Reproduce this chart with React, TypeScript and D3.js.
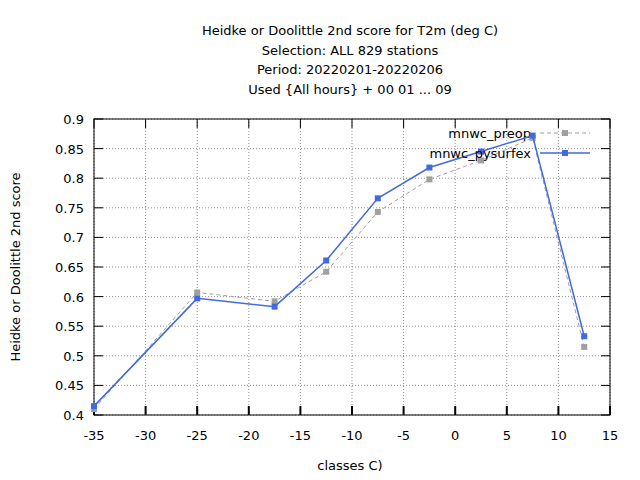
import React from 'react';
import * as d3 from 'd3';

const classes = [-35, -25, -17.5, -12.5, -7.5, -2.5, 2.5, 7.5, 12.5];
const preop = [0.41, 0.607, 0.592, 0.642, 0.743, 0.798, 0.83, 0.868, 0.515];
const pysurfex = [0.415, 0.597, 0.583, 0.661, 0.766, 0.818, 0.845, 0.872, 0.533];
const xTicks = [-35, -30, -25, -20, -15, -10, -5, 0, 5, 10, 15];
const yTicks = [0.4, 0.45, 0.5, 0.55, 0.6, 0.65, 0.7, 0.75, 0.8, 0.85, 0.9];
const titleLines = [
  'Heidke or Doolittle 2nd score  for T2m (deg C)',
  'Selection: ALL    829 stations',
  'Period: 20220201-20220206',
  'Used {All hours} + 00 01 ... 09',
];

const L = 94, R = 610, T = 119, B = 415;

export default function App() {
  const x = d3.scaleLinear().domain([-35, 15]).range([L, R]);
  const y = d3.scaleLinear().domain([0.4, 0.9]).range([B, T]);
  const line = d3.line<number>().x((_, i) => x(classes[i])).y(d => y(d));
  const series = [
    { name: 'mnwc_preop', data: preop, color: '#a0a0a0', dash: '4,3', w: 1 },
    { name: 'mnwc_pysurfex', data: pysurfex, color: '#4169e1', dash: undefined, w: 1.5 },
  ];
  const font = 'DejaVu Sans, sans-serif';
  return (
    <svg width={640} height={480} style={{ position: 'absolute', left: 0, top: 0, background: '#fff', whiteSpace: 'pre' }} fontFamily={font} fontSize={13}>
      {titleLines.map((t, i) => (
        <text key={i} x={350} y={35 + i * 19.5} textAnchor="middle">{t}</text>
      ))}
      {xTicks.map(t => (
        <g key={'x' + t}>
          <line x1={x(t)} x2={x(t)} y1={T} y2={B} stroke="#909090" strokeDasharray="1,2" />
          <line x1={x(t)} x2={x(t)} y1={B} y2={B - 9} stroke="#000" strokeWidth={2} />
          <line x1={x(t)} x2={x(t)} y1={T} y2={T + 9} stroke="#000" />
          <text x={x(t)} y={B + 25} textAnchor="middle">{t}</text>
        </g>
      ))}
      {yTicks.map(t => (
        <g key={'y' + t}>
          <line x1={L} x2={R} y1={y(t)} y2={y(t)} stroke="#909090" strokeDasharray="1,2" />
          <line x1={L} x2={L + 9} y1={y(t)} y2={y(t)} stroke="#000" />
          <line x1={R} x2={R - 9} y1={y(t)} y2={y(t)} stroke="#000" />
          <text x={L - 10} y={y(t) + 5} textAnchor="end">{d3.format('')(t)}</text>
        </g>
      ))}
      <rect x={L} y={T} width={R - L} height={B - T} fill="none" stroke="#000" />
      {series.map((s, k) => (
        <g key={s.name}>
          <path d={line(s.data) ?? ''} fill="none" stroke={s.color} strokeWidth={s.w} strokeDasharray={s.dash} />
          {s.data.map((v, i) => (
            <rect key={i} x={x(classes[i]) - 3} y={y(v) - 3} width={6} height={6} fill={s.color} />
          ))}
          <text x={531} y={138 + k * 20} textAnchor="end">{s.name}</text>
          <line x1={540} x2={590} y1={133 + k * 20} y2={133 + k * 20} stroke={s.color} strokeWidth={s.w} strokeDasharray={s.dash} />
          <rect x={562} y={130 + k * 20} width={6} height={6} fill={s.color} />
        </g>
      ))}
      <text transform="translate(20,267) rotate(-90)" textAnchor="middle">Heidke or Doolittle 2nd score</text>
      <text x={350} y={470} textAnchor="middle">classes C)</text>
    </svg>
  );
}
